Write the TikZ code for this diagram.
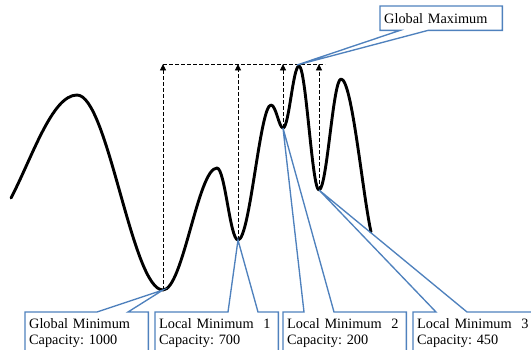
\documentclass[tikz,border=0pt]{standalone}
\usepackage{fontspec}
\setmainfont{Liberation Serif}
\usetikzlibrary{arrows.meta}
\definecolor{calloutblue}{RGB}{79,129,189}
\frenchspacing

\begin{document}
\begin{tikzpicture}[x=1pt, y=-1pt,
    curve/.style={line width=2.9pt, line cap=round, line join=round},
    guide/.style={dash pattern=on 3.5pt off 2.5pt, line width=0.9pt},
    guidearrow/.style={guide, -{Triangle[length=6.5pt, width=6pt]}},
    callout/.style={draw=calloutblue, line width=1.35pt},
    lbl/.style={anchor=north west, align=left, inner xsep=4pt, inner ysep=6.5pt,
        text width=115pt, font=\fontsize{14.3}{15.5}\selectfont}]
    \useasboundingbox (0,0) rectangle (531,350);

    \coordinate (gmin) at (163,290);
    \coordinate (lmin1) at (238,240);
    \coordinate (lmin2) at (283,128);
    \coordinate (lmin3) at (319,190);
    \coordinate (gmax) at (297,65);
    \coordinate (top) at (325,64);

    \draw[curve] (11,198) .. controls (32,158) and (52,95) .. (77,95)
        .. controls (108,95) and (132,290) .. (gmin)
        .. controls (183,290) and (198,168) .. (217,168)
        .. controls (225,168) and (230,240) .. (lmin1)
        .. controls (250,240) and (260,105) .. (271,105)
        .. controls (276,105) and (279,128) .. (lmin2)
        .. controls (289,128) and (293,66) .. (299,66)
        .. controls (306,66) and (312,190) .. (lmin3)
        .. controls (327,190) and (333,79) .. (341,79)
        .. controls (352,79) and (362,190) .. (371,232);

    \draw[guide] (gmin |- top) -- (top);
    \draw[guidearrow] (gmin) -- (gmin |- top);
    \draw[guidearrow] (lmin1) -- (lmin1 |- top);
    \draw[guidearrow] (lmin2) -- (lmin2 |- top);
    \draw[guidearrow] (lmin3) -- (lmin3 |- top);

    \node[lbl] (gminbox) at (25,312) {Global Minimum\\Capacity: 1000};
    \node[lbl] (lmin1box) at (155,312) {Local Minimum~~1\\Capacity: 700};
    \node[lbl] (lmin2box) at (283,312) {Local Minimum~~2\\Capacity: 200};
    \node[lbl] (lmin3box) at (413,312) {Local Minimum~~3\\Capacity: 450};
    \node[lbl, inner ysep=0pt, minimum height=24pt, text width=114pt] (gmaxbox) at (380,6) {Global Maximum};

    \draw[callout] ([yshift=-45pt]gminbox.north west) -- (gminbox.north west) -- ([xshift=72pt]gminbox.north west)
        -- (gmin) -- ([xshift=103pt]gminbox.north west) -- (gminbox.north east) -- ([yshift=-45pt]gminbox.north east);
    \draw[callout] ([yshift=-45pt]lmin1box.north west) -- (lmin1box.north west) -- ([xshift=73pt]lmin1box.north west)
        -- (lmin1) -- ([xshift=103pt]lmin1box.north west) -- (lmin1box.north east) -- ([yshift=-45pt]lmin1box.north east);
    \draw[callout] ([yshift=-45pt]lmin2box.north west) -- (lmin2box.north west) -- ([xshift=21pt]lmin2box.north west)
        -- (lmin2) -- ([xshift=51pt]lmin2box.north west) -- (lmin2box.north east) -- ([yshift=-45pt]lmin2box.north east);
    \draw[callout] ([yshift=-45pt]lmin3box.north west) -- (lmin3box.north west) -- ([xshift=23pt]lmin3box.north west)
        -- (lmin3) -- ([xshift=54pt]lmin3box.north west) -- (lmin3box.north east) -- ([yshift=-45pt]lmin3box.north east);
    \draw[callout] (gmaxbox.south west) -- (gmaxbox.north west) -- (gmaxbox.north east) -- (gmaxbox.south east)
        -- ([xshift=48pt]gmaxbox.south west) -- (gmax) -- ([xshift=20pt]gmaxbox.south west) -- cycle;
\end{tikzpicture}
\end{document}
